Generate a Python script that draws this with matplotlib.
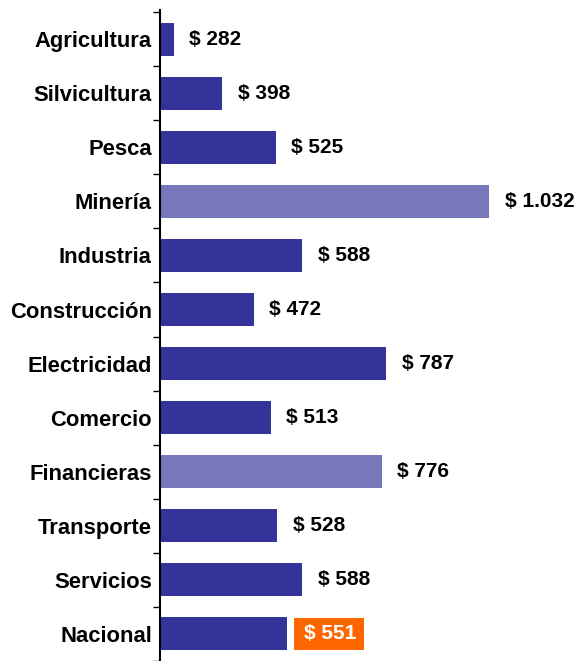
import matplotlib.pyplot as plt
import numpy as np
from matplotlib.patches import Rectangle

plt.rcParams['font.family'] = ['Liberation Sans', 'DejaVu Sans']

sectores = ['Agricultura', 'Silvicultura', 'Pesca', 'Minería', 'Industria',
            'Construcción', 'Electricidad', 'Comercio', 'Financieras',
            'Transporte', 'Servicios', 'Nacional']
valores = [282, 398, 525, 1032, 588, 472, 787, 513, 776, 528, 588, 551]
destacados = ['Minería', 'Financieras']

oscuro = '#333399'
claro = '#7777bb'
naranja = '#ff6600'

fig = plt.figure(figsize=(5.76, 6.61), dpi=100)
ax = fig.add_axes([0.278, 0.0, 0.70, 0.985])

y = np.arange(len(sectores))
colores = [claro if s in destacados else oscuro for s in sectores]
ax.barh(y, valores, height=0.61, color=colores)

ax.set_xlim(250, 1208)
ax.set_ylim(11.41, -0.54)

for i, (s, v) in enumerate(zip(sectores, valores)):
    txt = '$ ' + f'{v:,}'.replace(',', '.')
    if s == 'Nacional':
        # orange box behind the national value
        ax.add_patch(Rectangle((v + 17, i - 0.3), 166, 0.6,
                               fc=naranja, ec='none'))
        ax.text(v + 40, i, txt, va='center', ha='left', fontsize=15,
                fontweight='bold', color='white')
    else:
        ax.text(v + 37, i, txt, va='center', ha='left', fontsize=15,
                fontweight='bold', color='black')

ax.set_yticks(y)
ax.set_yticklabels(sectores, fontsize=15.8, fontweight='bold')
ax.tick_params(axis='y', which='major', length=0, pad=6)
ax.set_yticks(np.arange(-0.5, len(sectores), 1), minor=True)
ax.tick_params(axis='y', which='minor', length=5, width=1)
ax.set_xticks([])

for s in ['top', 'right', 'bottom']:
    ax.spines[s].set_visible(False)
ax.spines['left'].set_linewidth(1.5)

fig.savefig('out.png', dpi=100)
